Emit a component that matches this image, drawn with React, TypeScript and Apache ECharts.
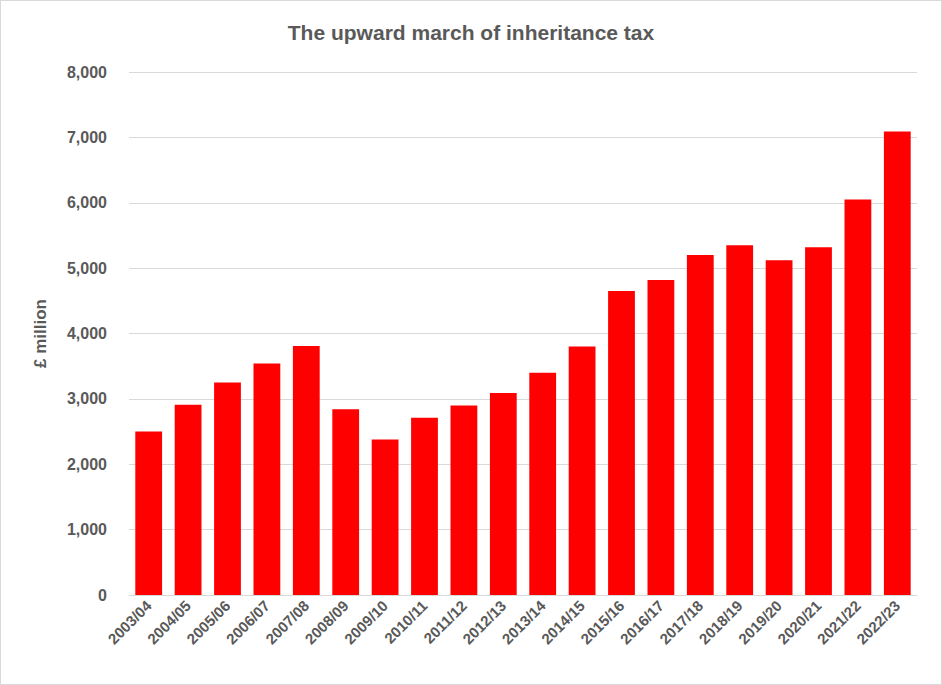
import { useEffect, useRef } from "react";
import * as echarts from "echarts";

const years = [
  "2003/04", "2004/05", "2005/06", "2006/07", "2007/08", "2008/09", "2009/10",
  "2010/11", "2011/12", "2012/13", "2013/14", "2014/15", "2015/16", "2016/17",
  "2017/18", "2018/19", "2019/20", "2020/21", "2021/22", "2022/23",
];
const receipts = [
  2500, 2910, 3250, 3540, 3810, 2840, 2380, 2710, 2900, 3090,
  3400, 3800, 4650, 4820, 5200, 5350, 5120, 5320, 6050, 7090,
];

const grey = "#595959";

const App = () => {
  const chartRef = useRef<HTMLDivElement>(null);

  useEffect(() => {
    document.body.style.margin = "0";
    const chart = echarts.init(chartRef.current, null, { renderer: "svg" });
    chart.setOption({
      animation: false,
      textStyle: { fontFamily: "Arial, 'Liberation Sans', sans-serif" },
      title: {
        text: "The upward march of inheritance tax",
        left: "center",
        top: 16,
        textStyle: { color: grey, fontSize: 21, fontWeight: "bold" },
      },
      grid: { left: 128, right: 24, top: 71, bottom: 89 },
      xAxis: {
        type: "category",
        data: years,
        axisLine: { lineStyle: { color: "#d9d9d9" } },
        axisTick: { show: false },
        axisLabel: {
          rotate: 45,
          interval: 0,
          color: grey,
          fontSize: 15,
          fontWeight: "bold",
          margin: 8,
        },
      },
      yAxis: {
        type: "value",
        min: 0,
        max: 8000,
        interval: 1000,
        name: "£ million",
        nameLocation: "middle",
        nameGap: 80,
        nameTextStyle: { color: grey, fontSize: 17, fontWeight: "bold" },
        axisLabel: {
          color: grey,
          fontSize: 16,
          fontWeight: "bold",
          margin: 22,
          formatter: (v: number) => v.toLocaleString("en-GB"),
        },
        splitLine: { lineStyle: { color: "#d9d9d9" } },
      },
      series: [
        {
          type: "bar",
          data: receipts,
          barCategoryGap: "32%",
          itemStyle: { color: "#ff0000" },
        },
      ],
    });
    return () => {
      chart.dispose();
    };
  }, []);

  return (
    <div
      ref={chartRef}
      style={{ width: 940, height: 683, border: "1px solid #d9d9d9" }}
    ></div>
  );
};

export default App;
